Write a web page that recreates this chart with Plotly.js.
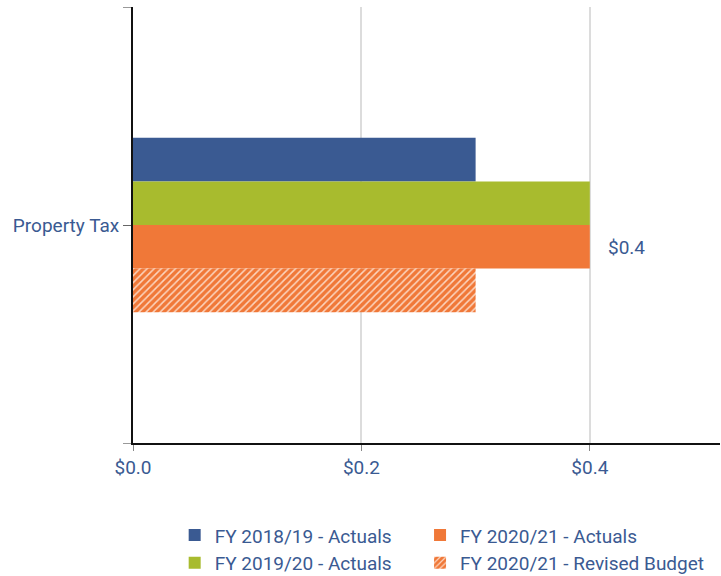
<!DOCTYPE html>
<html>
<head>
<meta charset="utf-8">
<script src="https://cdn.plot.ly/plotly-3.0.1.min.js"></script>
<style>html,body{margin:0;padding:0;background:#fff;}#chart{width:721px;height:576px;}</style>
</head>
<body>
<div id="chart"></div>
<script>
const categories = ['Property Tax'];
const seriesNames = ['FY 2018/19 - Actuals', 'FY 2019/20 - Actuals', 'FY 2020/21 - Actuals', 'FY 2020/21 - Revised Budget'];
const fy1819 = [0.3];
const fy1920 = [0.4];
const fy2021 = [0.4];
const fy2021Budget = [0.3];
const totalLabels = ['$0.4'];
const xTickVals = [0, 0.2, 0.4];
const xTickText = ['$0.0', '$0.2', '$0.4'];

const txt = '#3a5a92';
const font = {family: 'Roboto, sans-serif', size: 19, color: txt};
const yPos = categories.map((c, i) => i);

function bar(name, vals, color, legendId, rank, pattern) {
  const m = {color: color, line: {width: 0}};
  if (pattern) m.pattern = pattern;
  return {type: 'bar', orientation: 'h', name: name, x: vals, y: yPos,
          marker: m, legend: legendId, legendrank: rank, hoverinfo: 'x+name'};
}

const data = [
  bar(seriesNames[0], fy1819, '#3a5a92', 'legend', 1),
  bar(seriesNames[1], fy1920, '#a8bb2e', 'legend', 2),
  bar(seriesNames[2], fy2021, '#f07838', 'legend2', 1),
  bar(seriesNames[3], fy2021Budget, '#f07838', 'legend2', 2,
      {shape: '/', size: 5, solidity: 0.3, fgcolor: '#fcd6c0', bgcolor: '#f07838', fillmode: 'replace'})
];

const legendBase = {
  orientation: 'v', xanchor: 'left', y: -0.168, yanchor: 'top',
  font: {family: 'Roboto, sans-serif', size: 19, color: txt},
  traceorder: 'normal', tracegroupgap: 0, bgcolor: 'rgba(0,0,0,0)'
};

const layout = {
  width: 721, height: 576,
  margin: {l: 133, r: 1, t: 7, b: 133, autoexpand: false},
  paper_bgcolor: '#fff', plot_bgcolor: '#fff',
  font: font,
  showlegend: true,
  barmode: 'group',
  bargap: 0.6, bargroupgap: 0,
  xaxis: {
    range: [0, 0.514], tickvals: xTickVals, ticktext: xTickText,
    showgrid: true, gridcolor: '#dcdcdc', gridwidth: 2,
    showline: true, linecolor: '#111', linewidth: 2,
    ticks: 'outside', ticklen: 6, tickcolor: '#888', tickwidth: 1,
    zeroline: false, tickfont: font, fixedrange: true
  },
  yaxis: {
    range: [0.5, -0.5], tickvals: yPos, ticktext: categories,
    showgrid: false, zeroline: false,
    showline: true, linecolor: '#111', linewidth: 2,
    ticks: 'outside', ticklen: 8, tickcolor: '#666', tickwidth: 1,
    minor: {tickvals: [-0.5, 0.5], ticks: 'outside', ticklen: 8, tickcolor: '#999', tickwidth: 1, showgrid: false},
    tickfont: font, fixedrange: true
  },
  legend: Object.assign({}, legendBase, {x: 0.071}),
  legend2: Object.assign({}, legendBase, {x: 0.489}),
  annotations: [{
    x: fy2021[0], y: yPos[0], xref: 'x', yref: 'y',
    text: totalLabels[0], showarrow: false, xanchor: 'left', yanchor: 'middle',
    xshift: 16, yshift: -22, font: font
  }]
};

Plotly.newPlot('chart', data, layout, {displayModeBar: false, staticPlot: true});
</script>
</body>
</html>
